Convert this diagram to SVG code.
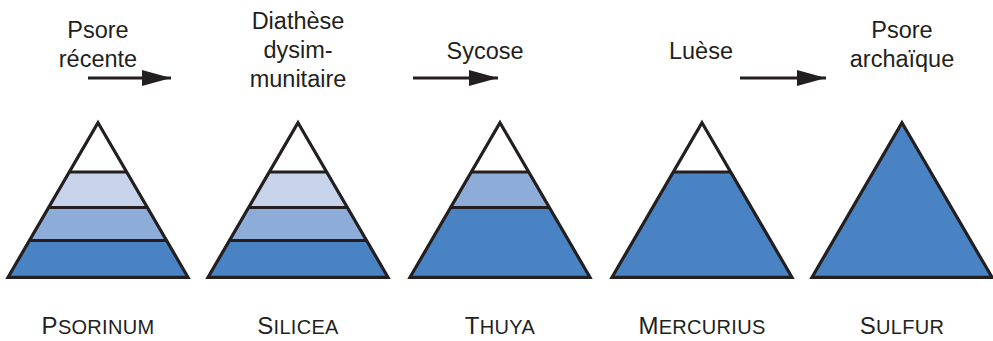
<svg xmlns="http://www.w3.org/2000/svg" width="993" height="341" viewBox="0 0 993 341">
<style>
.t{font-family:"Liberation Sans",Arial,Helvetica,sans-serif;font-size:23.5px;fill:#231f20;text-anchor:middle}
.n{font-family:"Liberation Sans",Arial,Helvetica,sans-serif;font-size:20px;fill:#231f20;text-anchor:middle;letter-spacing:0.3px}
.n .c{font-size:24px}
.w{fill:#ffffff}
.l1{fill:#c6d3eb}
.l2{fill:#8eacd8}
.l3{fill:#4a83c3}
.ln{stroke:#231f20;stroke-width:3.2;fill:none}
.tri{stroke:#231f20;stroke-width:3.2;fill:none;stroke-linejoin:miter}
.ar{stroke:#231f20;stroke-width:3;fill:none}
</style>
<defs>
<marker id="ah" markerUnits="userSpaceOnUse" markerWidth="30" markerHeight="17" refX="29" refY="8" orient="auto">
<path d="M0,0 L29,8 L0,16 Z" fill="#231f20"/>
</marker>
</defs>

<g id="psorinum">
<polygon class="w" points="98,122.7 69.3,172 126.7,172"/>
<polygon class="l1" points="69.3,172 126.7,172 147.4,207.5 48.6,207.5"/>
<polygon class="l2" points="48.6,207.5 147.4,207.5 166.3,240.5 29.7,240.5"/>
<polygon class="l3" points="29.7,240.5 166.3,240.5 188,277.3 8,277.3"/>
<line class="ln" x1="69.3" y1="172" x2="126.7" y2="172"/>
<line class="ln" x1="48.6" y1="207.5" x2="147.4" y2="207.5"/>
<line class="ln" x1="29.7" y1="240.5" x2="166.3" y2="240.5"/>
<polygon class="tri" points="98,122.7 188,277.3 8,277.3"/>
<text class="n" x="98" y="334"><tspan class="c">P</tspan>SORINUM</text>
</g>

<g id="silicea">
<polygon class="w" points="298,122.7 269.3,172 326.7,172"/>
<polygon class="l1" points="269.3,172 326.7,172 347.4,207.5 248.6,207.5"/>
<polygon class="l2" points="248.6,207.5 347.4,207.5 366.3,240.5 229.7,240.5"/>
<polygon class="l3" points="229.7,240.5 366.3,240.5 388,277.3 208,277.3"/>
<line class="ln" x1="269.3" y1="172" x2="326.7" y2="172"/>
<line class="ln" x1="248.6" y1="207.5" x2="347.4" y2="207.5"/>
<line class="ln" x1="229.7" y1="240.5" x2="366.3" y2="240.5"/>
<polygon class="tri" points="298,122.7 388,277.3 208,277.3"/>
<text class="n" x="298" y="334"><tspan class="c">S</tspan>ILICEA</text>
</g>

<g id="thuya">
<polygon class="w" points="500,122.7 471.3,172 528.7,172"/>
<polygon class="l2" points="471.3,172 528.7,172 549.4,207.5 450.6,207.5"/>
<polygon class="l3" points="450.6,207.5 549.4,207.5 590,277.3 410,277.3"/>
<line class="ln" x1="471.3" y1="172" x2="528.7" y2="172"/>
<line class="ln" x1="450.6" y1="207.5" x2="549.4" y2="207.5"/>
<polygon class="tri" points="500,122.7 590,277.3 410,277.3"/>
<text class="n" x="500" y="334"><tspan class="c">T</tspan>HUYA</text>
</g>

<g id="mercurius">
<polygon class="w" points="702,122.7 673.3,172 730.7,172"/>
<polygon class="l3" points="673.3,172 730.7,172 792,277.3 612,277.3"/>
<line class="ln" x1="673.3" y1="172" x2="730.7" y2="172"/>
<polygon class="tri" points="702,122.7 792,277.3 612,277.3"/>
<text class="n" x="702" y="334"><tspan class="c">M</tspan>ERCURIUS</text>
</g>

<g id="sulfur">
<polygon class="l3" points="902,122.7 992,277.3 812,277.3"/>
<polygon class="tri" points="902,122.7 992,277.3 812,277.3"/>
<text class="n" x="902" y="334"><tspan class="c">S</tspan>ULFUR</text>
</g>

<g id="connectors">
<line class="ar" x1="88" y1="78" x2="171" y2="78" marker-end="url(#ah)"/>
<line class="ar" x1="413" y1="78" x2="498" y2="78" marker-end="url(#ah)"/>
<line class="ar" x1="740" y1="78" x2="826" y2="78" marker-end="url(#ah)"/>
</g>

<g id="stage-labels">
<text class="t" x="98" y="38">Psore</text>
<text class="t" x="98" y="67">récente</text>
<text class="t" x="298" y="29">Diathèse</text>
<text class="t" x="298" y="58">dysim-</text>
<text class="t" x="298" y="87">munitaire</text>
<text class="t" x="485" y="59">Sycose</text>
<text class="t" x="701" y="59">Luèse</text>
<text class="t" x="902" y="38">Psore</text>
<text class="t" x="902" y="67">archaïque</text>
</g>
</svg>
